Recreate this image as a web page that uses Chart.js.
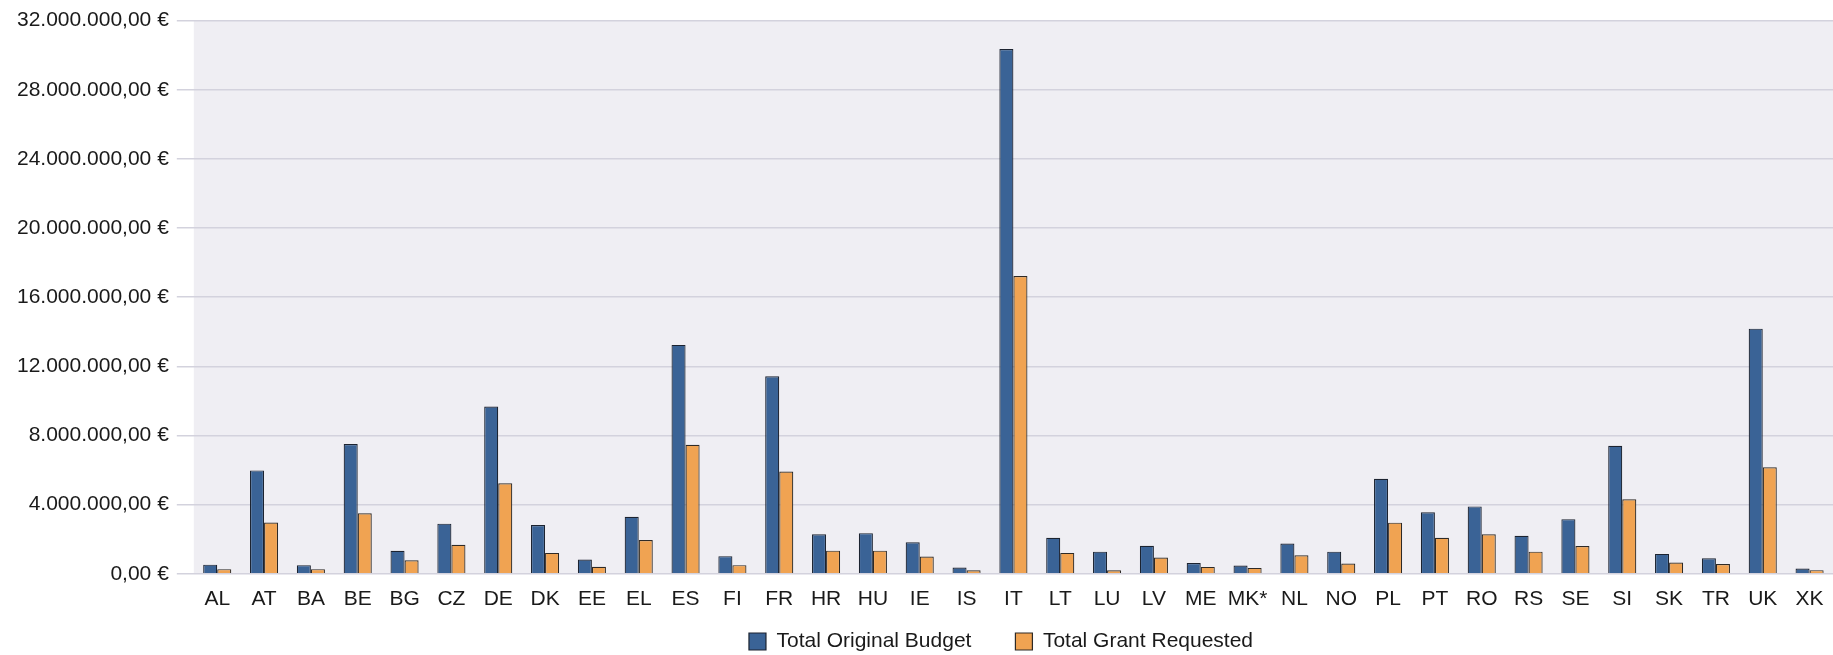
<!DOCTYPE html>
<html>
<head>
<meta charset="utf-8">
<script src="https://cdn.jsdelivr.net/npm/chart.js@4.4.1/dist/chart.umd.min.js"></script>
<style>
    html, body { margin: 0; padding: 0; background: #ffffff; }
    #wrap { width: 1833px; height: 655px; }
</style>
</head>
<body>
<div id="wrap"><canvas id="budgetChart" width="1833" height="655"></canvas></div>
<script>
var countries = ['AL', 'AT', 'BA', 'BE', 'BG', 'CZ', 'DE', 'DK', 'EE', 'EL', 'ES', 'FI', 'FR',
    'HR', 'HU', 'IE', 'IS', 'IT', 'LT', 'LU', 'LV', 'ME', 'MK*', 'NL', 'NO', 'PL', 'PT', 'RO',
    'RS', 'SE', 'SI', 'SK', 'TR', 'UK', 'XK'];

var originalBudget = [530000, 5980000, 500000, 7510000, 1330000, 2900000, 9680000, 2820000,
    820000, 3300000, 13240000, 1020000, 11430000, 2290000, 2350000, 1820000, 360000,
    30350000, 2080000, 1280000, 1620000, 620000, 480000, 1750000, 1280000, 5500000,
    3560000, 3900000, 2200000, 3160000, 7410000, 1150000, 900000, 14180000, 300000];

var grantRequested = [270000, 2970000, 270000, 3500000, 780000, 1680000, 5240000, 1210000,
    410000, 1950000, 7460000, 500000, 5920000, 1340000, 1340000, 1000000, 200000,
    17220000, 1210000, 200000, 940000, 400000, 340000, 1070000, 600000, 2960000,
    2080000, 2290000, 1280000, 1610000, 4310000, 650000, 560000, 6160000, 210000];

var seriesNames = ['Total Original Budget', 'Total Grant Requested'];
var yTicks = [0, 4000000, 8000000, 12000000, 16000000, 20000000, 24000000, 28000000, 32000000];

function formatEuro(value) {
    var parts = Number(value).toFixed(2).split('.');
    var whole = parts[0].replace(/\B(?=(\d{3})+(?!\d))/g, '.');
    return whole + ',' + parts[1] + ' \u20AC';
}

// fill the plot area with the light grey-lilac background
var plotBackground = {
    id: 'plotBackground',
    beforeDraw: function(chart) {
        var area = chart.chartArea;
        var ctx = chart.ctx;
        ctx.save();
        ctx.fillStyle = '#efeef3';
        ctx.fillRect(area.left, area.top, area.right - area.left, area.bottom - area.top);
        ctx.restore();
    }
};

// legend padding is wide for the gap between items, pull the row back up
// and nudge it right so it sits under the plot area
var legendLift = {
    id: 'legendLift',
    afterLayout: function(chart) {
        var lg = chart.legend;
        if (!lg) return;
        lg.top -= 30;
        lg.bottom -= 30;
        lg.left += 80;
        lg.right += 80;
    }
};

Chart.defaults.font.family = '"Liberation Sans", Arial, sans-serif';
Chart.defaults.color = '#1a1a1a';

var ctx = document.getElementById('budgetChart').getContext('2d');
new Chart(ctx, {
    type: 'bar',
    data: {
        labels: countries,
        datasets: [{
            label: seriesNames[0],
            data: originalBudget,
            backgroundColor: '#3a6396',
            borderColor: '#1c2330',
            borderWidth: 1.2,
            categoryPercentage: 0.6,
            barPercentage: 1.0
        }, {
            label: seriesNames[1],
            data: grantRequested,
            backgroundColor: '#f0a352',
            borderColor: '#2e2a26',
            borderWidth: 1.2,
            categoryPercentage: 0.6,
            barPercentage: 1.0
        }]
    },
    options: {
        responsive: false,
        animation: false,
        layout: {
            padding: { top: 4, left: 9, right: 0, bottom: -37 }
        },
        plugins: {
            legend: {
                position: 'bottom',
                labels: {
                    boxWidth: 17,
                    boxHeight: 17,
                    padding: 44,
                    color: '#1a1a1a',
                    font: { size: 21 }
                }
            },
            tooltip: { enabled: false }
        },
        scales: {
            y: {
                min: 0,
                max: 32000000,
                afterBuildTicks: function(axis) {
                    axis.ticks = yTicks.map(function(v) { return { value: v }; });
                },
                ticks: {
                    padding: 8,
                    color: '#1a1a1a',
                    font: { size: 21 },
                    callback: function(value) { return formatEuro(value); }
                },
                grid: {
                    color: '#d3d2dd',
                    tickColor: '#d3d2dd',
                    tickLength: 17,
                    lineWidth: 1.5
                },
                border: { display: false }
            },
            x: {
                ticks: {
                    padding: 5,
                    color: '#1a1a1a',
                    font: { size: 21 },
                    maxRotation: 0,
                    autoSkip: false
                },
                grid: { display: false },
                border: { display: false }
            }
        }
    },
    plugins: [plotBackground, legendLift]
});
</script>
</body>
</html>
